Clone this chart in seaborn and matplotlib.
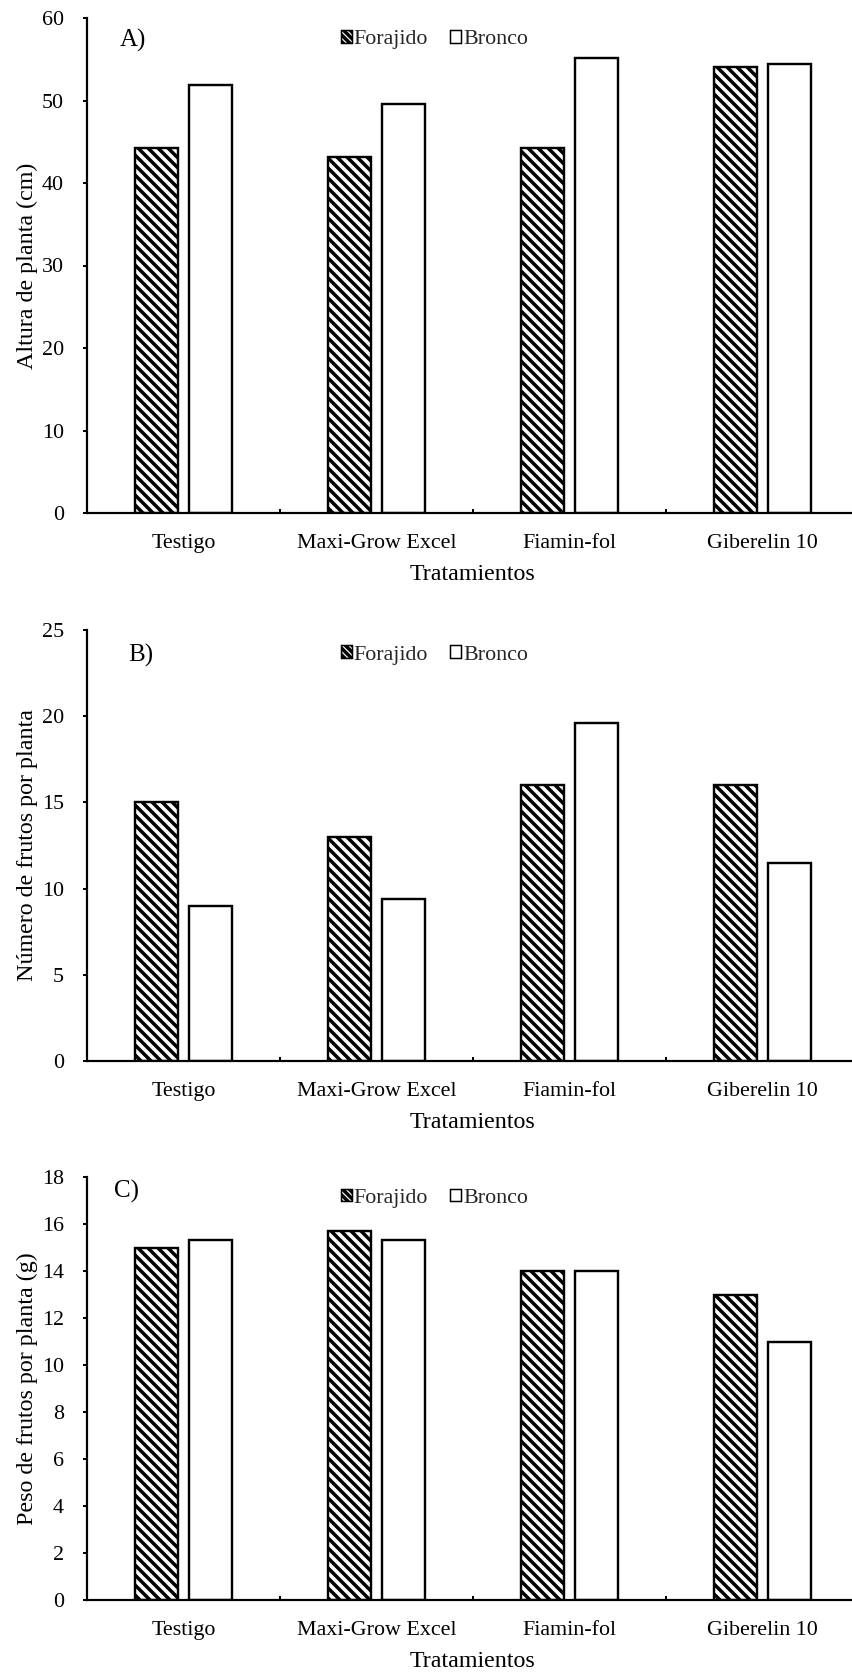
import matplotlib
matplotlib.use("Agg")
import matplotlib.pyplot as plt
import pandas as pd
import seaborn as sns
from matplotlib.patches import Patch
from matplotlib.ticker import FixedLocator, MultipleLocator

# data
tratamientos = ["Testigo", "Maxi-Grow Excel", "Fiamin-fol", "Giberelin 10"]
variedades = ["Forajido", "Bronco"]

altura_forajido = [44.2, 43.1, 44.2, 54.1]
altura_bronco = [51.9, 49.6, 55.2, 54.4]

frutos_forajido = [15.0, 13.0, 16.0, 16.0]
frutos_bronco = [9.0, 9.4, 19.6, 11.5]

peso_forajido = [15.0, 15.7, 14.0, 13.0]
peso_bronco = [15.3, 15.3, 14.0, 11.0]

paneles = [
    ("A)", "Altura de planta (cm)", altura_forajido, altura_bronco, 60, 10),
    ("B)", "Número de frutos por planta", frutos_forajido, frutos_bronco, 25, 5),
    ("C)", "Peso de frutos por planta (g)", peso_forajido, peso_bronco, 18, 2),
]

DPI = 60
W, H = 852, 1674
PX = 72.0 / DPI  # points per pixel

sns.set_theme(style="white")
plt.rcParams["font.family"] = ["Liberation Serif", "DejaVu Serif"]
plt.rcParams["hatch.linewidth"] = 4.2
plt.rcParams["hatch.color"] = "black"

fig = plt.figure(figsize=(W / DPI, H / DPI), dpi=DPI)
fig.patch.set_facecolor("white")

# axes boxes in pixels: (left, top, bottom)
boxes = [(87, 18, 513), (87, 630, 1061), (87, 1177, 1600)]
cat_w = 193
legend_y = [0.956, 0.942, 0.95]
label_xy = [(0.043, 0.954), (0.053, 0.94), (0.035, 0.967)]

for i, (tag, ylab, forajido, bronco, ymax, step) in enumerate(paneles):
    left, top, bottom = boxes[i]
    ax = fig.add_axes([left / W, 1 - bottom / H, 4 * cat_w / W, (bottom - top) / H])

    df = pd.DataFrame({
        "Tratamientos": tratamientos * 2,
        "Variedad": [variedades[0]] * 4 + [variedades[1]] * 4,
        "valor": forajido + bronco,
    })

    sns.barplot(data=df, x="Tratamientos", y="valor", hue="Variedad",
                order=tratamientos, hue_order=variedades,
                palette={"Forajido": "white", "Bronco": "white"},
                edgecolor="black", linewidth=2.4 * PX, width=0.56, gap=0.2,
                errorbar=None, legend=False, ax=ax)

    for bar in ax.containers[0]:
        bar.set_hatch("\\\\")

    ax.set_xlim(-0.5, 3.5)
    ax.set_ylim(0, ymax)
    ax.yaxis.set_major_locator(MultipleLocator(step))
    ax.set_facecolor("white")

    for s in ["top", "right"]:
        ax.spines[s].set_visible(False)
    for s in ["left", "bottom"]:
        ax.spines[s].set_color("black")
        ax.spines[s].set_linewidth(2.2 * PX)

    ax.tick_params(axis="y", direction="out", length=4 * PX, width=2 * PX,
                   pad=19 * PX, labelsize=22 * PX, colors="black", left=True)
    ax.tick_params(axis="x", which="major", length=0, pad=21 * PX,
                   labelsize=22 * PX, colors="black")
    ax.xaxis.set_minor_locator(FixedLocator([0.5, 1.5, 2.5]))
    ax.tick_params(axis="x", which="minor", direction="in", length=4 * PX,
                   width=2 * PX, color="black", bottom=True)

    ax.set_xlabel("Tratamientos", fontsize=24 * PX, color="black", labelpad=11 * PX)
    ax.set_ylabel(ylab, fontsize=24 * PX, color="black")
    ax.yaxis.set_label_coords(-0.064, 0.5)

    ax.text(label_xy[i][0], label_xy[i][1], tag, transform=ax.transAxes,
            fontsize=25 * PX, ha="left", va="center", color="black")

    handles = [
        Patch(facecolor="white", edgecolor="black", hatch="\\\\\\", linewidth=1.5 * PX, label="Forajido"),
        Patch(facecolor="white", edgecolor="black", linewidth=1.5 * PX, label="Bronco"),
    ]
    ax.legend(handles=handles, loc="center", bbox_to_anchor=(0.45, legend_y[i]),
              ncol=2, frameon=False, fontsize=22 * PX, handlelength=0.5,
              handleheight=0.5, handletextpad=0.1, columnspacing=1.0,
              borderpad=0, borderaxespad=0)

fig.savefig("out.png", dpi=DPI, facecolor="white")
